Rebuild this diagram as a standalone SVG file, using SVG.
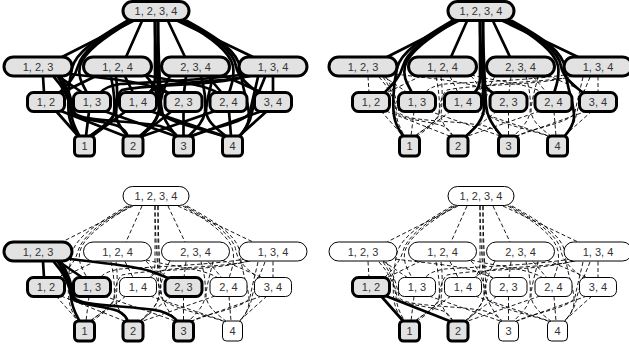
<svg xmlns="http://www.w3.org/2000/svg" width="629" height="349" viewBox="0 0 629 349">
<style>
text{font-family:"Liberation Sans",Arial,sans-serif;font-size:11px;fill:#333;text-anchor:middle}
.e{fill:none}
.k{stroke:#000;stroke-width:2.7;stroke-linecap:round;fill:none}
.d{stroke:#000;stroke-width:0.9;stroke-dasharray:4 2.5;fill:none}
.h rect{fill:#e2e2e2;stroke:#000;stroke-width:3}
.w rect{fill:#fff;stroke:#000;stroke-width:1}
</style>
<defs>
<path id="eT-A" class="e" d="M133,21 L62,57"/>
<path id="eT-B" class="e" d="M142,21 L126,57"/>
<path id="eT-C" class="e" d="M168,21 L185,57"/>
<path id="eT-D" class="e" d="M178,21 L253,57"/>
<path id="eT-12" class="e" d="M129,21 C100,38 82,52 78,66 C75,78 66,86 59,93"/>
<path id="eT-13" class="e" d="M131,21 C103,38 84,52 80,66 C77,78 84,86 87,93"/>
<path id="eT-1" class="e" d="M127,21 C98,38 76,52 72,68 C68,86 67,110 70,120 C72,128 76,133 79,137"/>
<path id="eT-14" class="e" d="M155,21 C155,45 155,65 155,78 C155,86 152,90 149,93"/>
<path id="eT-23" class="e" d="M158,21 C158,45 158,65 158,78 C158,86 163,90 168,93"/>
<path id="eT-2" class="e" d="M155,21 C155,50 158,85 159,105 C160,120 148,130 140,137"/>
<path id="eT-3" class="e" d="M158,21 C158,50 160,85 161,105 C162,120 172,130 177,137"/>
<path id="eT-24" class="e" d="M183,21 C212,38 230,52 233,66 C235,78 231,86 229,93"/>
<path id="eT-34" class="e" d="M185,21 C215,38 234,52 236,66 C238,78 250,86 258,93"/>
<path id="eT-4" class="e" d="M187,21 C218,38 238,52 240,68 C242,90 250,105 249,118 C248,127 243,132 239,137"/>
<path id="eA-12" class="e" d="M43,76.5 L44,92.5"/>
<path id="eA-13" class="e" d="M58,76 L83,93"/>
<path id="eA-23" class="e" d="M70,74 C100,78 130,80 150,86 C158,89 163,91 168,93"/>
<path id="eA-1" class="e" d="M54,77 C64,88 70,100 71,112 C72,124 77,131 80,137"/>
<path id="eA-2" class="e" d="M58,77 C66,88 70,100 72,112 C75,120 100,120 118,126 C124,129 127,133 128,137"/>
<path id="eA-3" class="e" d="M61,77 C68,88 72,100 74,112 C78,122 130,120 160,126 C170,129 175,133 178,137"/>
<path id="eB-12" class="e" d="M96,76 L61,93"/>
<path id="eB-14" class="e" d="M125,76.5 L133,92.5"/>
<path id="eB-24" class="e" d="M146,75 C175,82 205,84 218,93"/>
<path id="eB-1" class="e" d="M111,77 C114,90 115,104 114,114 C112,124 96,130 89,137"/>
<path id="eB-2" class="e" d="M116,77 C118,90 117,104 116,114 C116,124 124,131 128,137"/>
<path id="eB-4" class="e" d="M146,76 C155,85 160,100 161,112 C165,122 200,128 226,137"/>
<path id="eC-23" class="e" d="M186,76.5 L184,92.5"/>
<path id="eC-24" class="e" d="M208,76.5 L222,93"/>
<path id="eC-34" class="e" d="M222,75 L263,93"/>
<path id="eC-2" class="e" d="M170,76 C163,88 160,100 159,112 C157,122 146,130 139,137"/>
<path id="eC-3" class="e" d="M201,76.5 C205,90 206,102 205,112 C203,124 193,131 188,137"/>
<path id="eC-4" class="e" d="M213,76.5 C210,90 206,102 206,112 C208,124 220,131 227,137"/>
<path id="eD-13" class="e" d="M246,74 C210,80 150,82 120,84 C108,86 103,89 100,93"/>
<path id="eD-14" class="e" d="M250,76 C225,82 175,82 160,86 C155,88 152,90 150,93"/>
<path id="eD-34" class="e" d="M273,76.5 L273,92.5"/>
<path id="eD-1" class="e" d="M248,76 C215,86 150,84 122,90 C116,95 115,105 114,114 C110,124 96,130 90,137"/>
<path id="eD-3" class="e" d="M258,77 C255,90 252,102 250,112 C245,124 205,128 190,137"/>
<path id="eD-4" class="e" d="M265,77 C260,90 254,102 252,112 C250,124 244,131 239,137"/>
<path id="e12-1" class="e" d="M56,111 L79,137"/>
<path id="e12-2" class="e" d="M61,111 L127,137"/>
<path id="e13-1" class="e" d="M89,111.5 L86,136"/>
<path id="e13-3" class="e" d="M104,111 L178,137"/>
<path id="e14-1" class="e" d="M126,111 L91,137"/>
<path id="e14-4" class="e" d="M150,111 L227,137"/>
<path id="e23-2" class="e" d="M172,111 L139,137"/>
<path id="e23-3" class="e" d="M183.5,111.5 L183.5,136"/>
<path id="e24-2" class="e" d="M215,111 L140,137"/>
<path id="e24-4" class="e" d="M229,111.5 L231,136"/>
<path id="e34-3" class="e" d="M262,111 L189,137"/>
<path id="e34-4" class="e" d="M267,111 L238,137"/>
</defs>

<!-- Panel 1 -->
<g id="panel1">
<g id="p1-connectors" class="k">
<use href="#eT-A"/><use href="#eT-B"/><use href="#eT-C"/><use href="#eT-D"/>
<use href="#eT-12"/><use href="#eT-13"/><use href="#eT-1"/><use href="#eT-14"/><use href="#eT-23"/><use href="#eT-2"/><use href="#eT-3"/><use href="#eT-24"/><use href="#eT-34"/><use href="#eT-4"/>
<use href="#eA-12"/><use href="#eA-13"/><use href="#eA-23"/><use href="#eA-1"/><use href="#eA-2"/><use href="#eA-3"/>
<use href="#eB-12"/><use href="#eB-14"/><use href="#eB-24"/><use href="#eB-1"/><use href="#eB-2"/><use href="#eB-4"/>
<use href="#eC-23"/><use href="#eC-24"/><use href="#eC-34"/><use href="#eC-2"/><use href="#eC-3"/><use href="#eC-4"/>
<use href="#eD-13"/><use href="#eD-14"/><use href="#eD-34"/><use href="#eD-1"/><use href="#eD-3"/><use href="#eD-4"/>
<use href="#e12-1"/><use href="#e12-2"/><use href="#e13-1"/><use href="#e13-3"/><use href="#e14-1"/><use href="#e14-4"/>
<use href="#e23-2"/><use href="#e23-3"/><use href="#e24-2"/><use href="#e24-4"/><use href="#e34-3"/><use href="#e34-4"/>
</g>
<g id="p1-n1234" class="h"><rect x="123" y="1.5" width="66" height="19" rx="9.5"/><text x="156" y="15">1, 2, 3, 4</text></g>
<g id="p1-n123" class="h"><rect x="4" y="57" width="68" height="19" rx="9.5"/><text x="38" y="70.5">1, 2, 3</text></g>
<g id="p1-n124" class="h"><rect x="83.5" y="57" width="68" height="19" rx="9.5"/><text x="117.5" y="70.5">1, 2, 4</text></g>
<g id="p1-n234" class="h"><rect x="161.5" y="57" width="68" height="19" rx="9.5"/><text x="195.5" y="70.5">2, 3, 4</text></g>
<g id="p1-n134" class="h"><rect x="239" y="57" width="68" height="19" rx="9.5"/><text x="273" y="70.5">1, 3, 4</text></g>
<g id="p1-n12" class="h"><rect x="27.5" y="92.5" width="37" height="19" rx="6"/><text x="46" y="106">1, 2</text></g>
<g id="p1-n13" class="h"><rect x="73.5" y="92.5" width="37" height="19" rx="6"/><text x="92" y="106">1, 3</text></g>
<g id="p1-n14" class="h"><rect x="119.5" y="92.5" width="37" height="19" rx="6"/><text x="138" y="106">1, 4</text></g>
<g id="p1-n23" class="h"><rect x="165" y="92.5" width="37" height="19" rx="6"/><text x="183.5" y="106">2, 3</text></g>
<g id="p1-n24" class="h"><rect x="210" y="92.5" width="37" height="19" rx="6"/><text x="228.5" y="106">2, 4</text></g>
<g id="p1-n34" class="h"><rect x="254.5" y="92.5" width="37" height="19" rx="6"/><text x="273" y="106">3, 4</text></g>
<g id="p1-n1" class="h"><rect x="74.5" y="136" width="20" height="20" rx="4"/><text x="84.5" y="150">1</text></g>
<g id="p1-n2" class="h"><rect x="123" y="136" width="20" height="20" rx="4"/><text x="133" y="150">2</text></g>
<g id="p1-n3" class="h"><rect x="173.5" y="136" width="20" height="20" rx="4"/><text x="183.5" y="150">3</text></g>
<g id="p1-n4" class="h"><rect x="222.5" y="136" width="20" height="20" rx="4"/><text x="232.5" y="150">4</text></g>
</g>

<!-- Panel 2 -->
<g id="panel2" transform="translate(325,0)">
<g id="p2-connectors">
<g class="d">
<use href="#eA-12"/><use href="#eA-13"/><use href="#eA-23"/><use href="#eA-1"/><use href="#eA-2"/><use href="#eA-3"/>
<use href="#eB-12"/><use href="#eB-14"/><use href="#eB-24"/><use href="#eB-1"/><use href="#eB-2"/><use href="#eB-4"/>
<use href="#eC-23"/><use href="#eC-24"/><use href="#eC-34"/><use href="#eC-2"/><use href="#eC-3"/><use href="#eC-4"/>
<use href="#eD-13"/><use href="#eD-14"/><use href="#eD-34"/><use href="#eD-1"/><use href="#eD-3"/><use href="#eD-4"/>
<use href="#e12-1"/><use href="#e12-2"/><use href="#e13-1"/><use href="#e13-3"/><use href="#e14-1"/><use href="#e14-4"/>
<use href="#e23-2"/><use href="#e23-3"/><use href="#e24-2"/><use href="#e24-4"/><use href="#e34-3"/><use href="#e34-4"/>
</g>
<g class="k">
<use href="#eT-A"/><use href="#eT-B"/><use href="#eT-C"/><use href="#eT-D"/>
<use href="#eT-12"/><use href="#eT-13"/><use href="#eT-1"/><use href="#eT-14"/><use href="#eT-23"/><use href="#eT-2"/><use href="#eT-3"/><use href="#eT-24"/><use href="#eT-34"/><use href="#eT-4"/>
</g>
</g>
<g id="p2-n1234" class="h"><rect x="123" y="1.5" width="66" height="19" rx="9.5"/><text x="156" y="15">1, 2, 3, 4</text></g>
<g id="p2-n123" class="h"><rect x="4" y="57" width="68" height="19" rx="9.5"/><text x="38" y="70.5">1, 2, 3</text></g>
<g id="p2-n124" class="h"><rect x="83.5" y="57" width="68" height="19" rx="9.5"/><text x="117.5" y="70.5">1, 2, 4</text></g>
<g id="p2-n234" class="h"><rect x="161.5" y="57" width="68" height="19" rx="9.5"/><text x="195.5" y="70.5">2, 3, 4</text></g>
<g id="p2-n134" class="h"><rect x="239" y="57" width="68" height="19" rx="9.5"/><text x="273" y="70.5">1, 3, 4</text></g>
<g id="p2-n12" class="h"><rect x="27.5" y="92.5" width="37" height="19" rx="6"/><text x="46" y="106">1, 2</text></g>
<g id="p2-n13" class="h"><rect x="73.5" y="92.5" width="37" height="19" rx="6"/><text x="92" y="106">1, 3</text></g>
<g id="p2-n14" class="h"><rect x="119.5" y="92.5" width="37" height="19" rx="6"/><text x="138" y="106">1, 4</text></g>
<g id="p2-n23" class="h"><rect x="165" y="92.5" width="37" height="19" rx="6"/><text x="183.5" y="106">2, 3</text></g>
<g id="p2-n24" class="h"><rect x="210" y="92.5" width="37" height="19" rx="6"/><text x="228.5" y="106">2, 4</text></g>
<g id="p2-n34" class="h"><rect x="254.5" y="92.5" width="37" height="19" rx="6"/><text x="273" y="106">3, 4</text></g>
<g id="p2-n1" class="h"><rect x="74.5" y="136" width="20" height="20" rx="4"/><text x="84.5" y="150">1</text></g>
<g id="p2-n2" class="h"><rect x="123" y="136" width="20" height="20" rx="4"/><text x="133" y="150">2</text></g>
<g id="p2-n3" class="h"><rect x="173.5" y="136" width="20" height="20" rx="4"/><text x="183.5" y="150">3</text></g>
<g id="p2-n4" class="h"><rect x="222.5" y="136" width="20" height="20" rx="4"/><text x="232.5" y="150">4</text></g>
</g>

<!-- Panel 3 -->
<g id="panel3" transform="translate(0,185)">
<g id="p3-connectors">
<g class="d">
<use href="#eT-A"/><use href="#eT-B"/><use href="#eT-C"/><use href="#eT-D"/>
<use href="#eT-12"/><use href="#eT-13"/><use href="#eT-1"/><use href="#eT-14"/><use href="#eT-23"/><use href="#eT-2"/><use href="#eT-3"/><use href="#eT-24"/><use href="#eT-34"/><use href="#eT-4"/>
<use href="#eB-12"/><use href="#eB-14"/><use href="#eB-24"/><use href="#eB-1"/><use href="#eB-2"/><use href="#eB-4"/>
<use href="#eC-23"/><use href="#eC-24"/><use href="#eC-34"/><use href="#eC-2"/><use href="#eC-3"/><use href="#eC-4"/>
<use href="#eD-13"/><use href="#eD-14"/><use href="#eD-34"/><use href="#eD-1"/><use href="#eD-3"/><use href="#eD-4"/>
<use href="#e12-1"/><use href="#e12-2"/><use href="#e13-1"/><use href="#e13-3"/><use href="#e14-1"/><use href="#e14-4"/>
<use href="#e23-2"/><use href="#e23-3"/><use href="#e24-2"/><use href="#e24-4"/><use href="#e34-3"/><use href="#e34-4"/>
</g>
<g class="k">
<use href="#eA-12"/><use href="#eA-13"/><use href="#eA-23"/><use href="#eA-1"/><use href="#eA-2"/><use href="#eA-3"/>
</g>
</g>
<g id="p3-n1234" class="w"><rect x="123" y="1.5" width="66" height="19" rx="9.5"/><text x="156" y="15">1, 2, 3, 4</text></g>
<g id="p3-n123" class="h"><rect x="4" y="57" width="68" height="19" rx="9.5"/><text x="38" y="70.5">1, 2, 3</text></g>
<g id="p3-n124" class="w"><rect x="83.5" y="57" width="68" height="19" rx="9.5"/><text x="117.5" y="70.5">1, 2, 4</text></g>
<g id="p3-n234" class="w"><rect x="161.5" y="57" width="68" height="19" rx="9.5"/><text x="195.5" y="70.5">2, 3, 4</text></g>
<g id="p3-n134" class="w"><rect x="239" y="57" width="68" height="19" rx="9.5"/><text x="273" y="70.5">1, 3, 4</text></g>
<g id="p3-n12" class="h"><rect x="27.5" y="92.5" width="37" height="19" rx="6"/><text x="46" y="106">1, 2</text></g>
<g id="p3-n13" class="h"><rect x="73.5" y="92.5" width="37" height="19" rx="6"/><text x="92" y="106">1, 3</text></g>
<g id="p3-n14" class="w"><rect x="119.5" y="92.5" width="37" height="19" rx="6"/><text x="138" y="106">1, 4</text></g>
<g id="p3-n23" class="h"><rect x="165" y="92.5" width="37" height="19" rx="6"/><text x="183.5" y="106">2, 3</text></g>
<g id="p3-n24" class="w"><rect x="210" y="92.5" width="37" height="19" rx="6"/><text x="228.5" y="106">2, 4</text></g>
<g id="p3-n34" class="w"><rect x="254.5" y="92.5" width="37" height="19" rx="6"/><text x="273" y="106">3, 4</text></g>
<g id="p3-n1" class="h"><rect x="74.5" y="136" width="20" height="20" rx="4"/><text x="84.5" y="150">1</text></g>
<g id="p3-n2" class="h"><rect x="123" y="136" width="20" height="20" rx="4"/><text x="133" y="150">2</text></g>
<g id="p3-n3" class="h"><rect x="173.5" y="136" width="20" height="20" rx="4"/><text x="183.5" y="150">3</text></g>
<g id="p3-n4" class="w"><rect x="222.5" y="136" width="20" height="20" rx="4"/><text x="232.5" y="150">4</text></g>
</g>

<!-- Panel 4 -->
<g id="panel4" transform="translate(325,185)">
<g id="p4-connectors">
<g class="d">
<use href="#eT-A"/><use href="#eT-B"/><use href="#eT-C"/><use href="#eT-D"/>
<use href="#eT-12"/><use href="#eT-13"/><use href="#eT-1"/><use href="#eT-14"/><use href="#eT-23"/><use href="#eT-2"/><use href="#eT-3"/><use href="#eT-24"/><use href="#eT-34"/><use href="#eT-4"/>
<use href="#eA-12"/><use href="#eA-13"/><use href="#eA-23"/><use href="#eA-1"/><use href="#eA-2"/><use href="#eA-3"/>
<use href="#eB-12"/><use href="#eB-14"/><use href="#eB-24"/><use href="#eB-1"/><use href="#eB-2"/><use href="#eB-4"/>
<use href="#eC-23"/><use href="#eC-24"/><use href="#eC-34"/><use href="#eC-2"/><use href="#eC-3"/><use href="#eC-4"/>
<use href="#eD-13"/><use href="#eD-14"/><use href="#eD-34"/><use href="#eD-1"/><use href="#eD-3"/><use href="#eD-4"/>
<use href="#e13-1"/><use href="#e13-3"/><use href="#e14-1"/><use href="#e14-4"/>
<use href="#e23-2"/><use href="#e23-3"/><use href="#e24-2"/><use href="#e24-4"/><use href="#e34-3"/><use href="#e34-4"/>
</g>
<g class="k">
<use href="#e12-1"/><use href="#e12-2"/>
</g>
</g>
<g id="p4-n1234" class="w"><rect x="123" y="1.5" width="66" height="19" rx="9.5"/><text x="156" y="15">1, 2, 3, 4</text></g>
<g id="p4-n123" class="w"><rect x="4" y="57" width="68" height="19" rx="9.5"/><text x="38" y="70.5">1, 2, 3</text></g>
<g id="p4-n124" class="w"><rect x="83.5" y="57" width="68" height="19" rx="9.5"/><text x="117.5" y="70.5">1, 2, 4</text></g>
<g id="p4-n234" class="w"><rect x="161.5" y="57" width="68" height="19" rx="9.5"/><text x="195.5" y="70.5">2, 3, 4</text></g>
<g id="p4-n134" class="w"><rect x="239" y="57" width="68" height="19" rx="9.5"/><text x="273" y="70.5">1, 3, 4</text></g>
<g id="p4-n12" class="h"><rect x="27.5" y="92.5" width="37" height="19" rx="6"/><text x="46" y="106">1, 2</text></g>
<g id="p4-n13" class="w"><rect x="73.5" y="92.5" width="37" height="19" rx="6"/><text x="92" y="106">1, 3</text></g>
<g id="p4-n14" class="w"><rect x="119.5" y="92.5" width="37" height="19" rx="6"/><text x="138" y="106">1, 4</text></g>
<g id="p4-n23" class="w"><rect x="165" y="92.5" width="37" height="19" rx="6"/><text x="183.5" y="106">2, 3</text></g>
<g id="p4-n24" class="w"><rect x="210" y="92.5" width="37" height="19" rx="6"/><text x="228.5" y="106">2, 4</text></g>
<g id="p4-n34" class="w"><rect x="254.5" y="92.5" width="37" height="19" rx="6"/><text x="273" y="106">3, 4</text></g>
<g id="p4-n1" class="h"><rect x="74.5" y="136" width="20" height="20" rx="4"/><text x="84.5" y="150">1</text></g>
<g id="p4-n2" class="h"><rect x="123" y="136" width="20" height="20" rx="4"/><text x="133" y="150">2</text></g>
<g id="p4-n3" class="w"><rect x="173.5" y="136" width="20" height="20" rx="4"/><text x="183.5" y="150">3</text></g>
<g id="p4-n4" class="w"><rect x="222.5" y="136" width="20" height="20" rx="4"/><text x="232.5" y="150">4</text></g>
</g>
</svg>
